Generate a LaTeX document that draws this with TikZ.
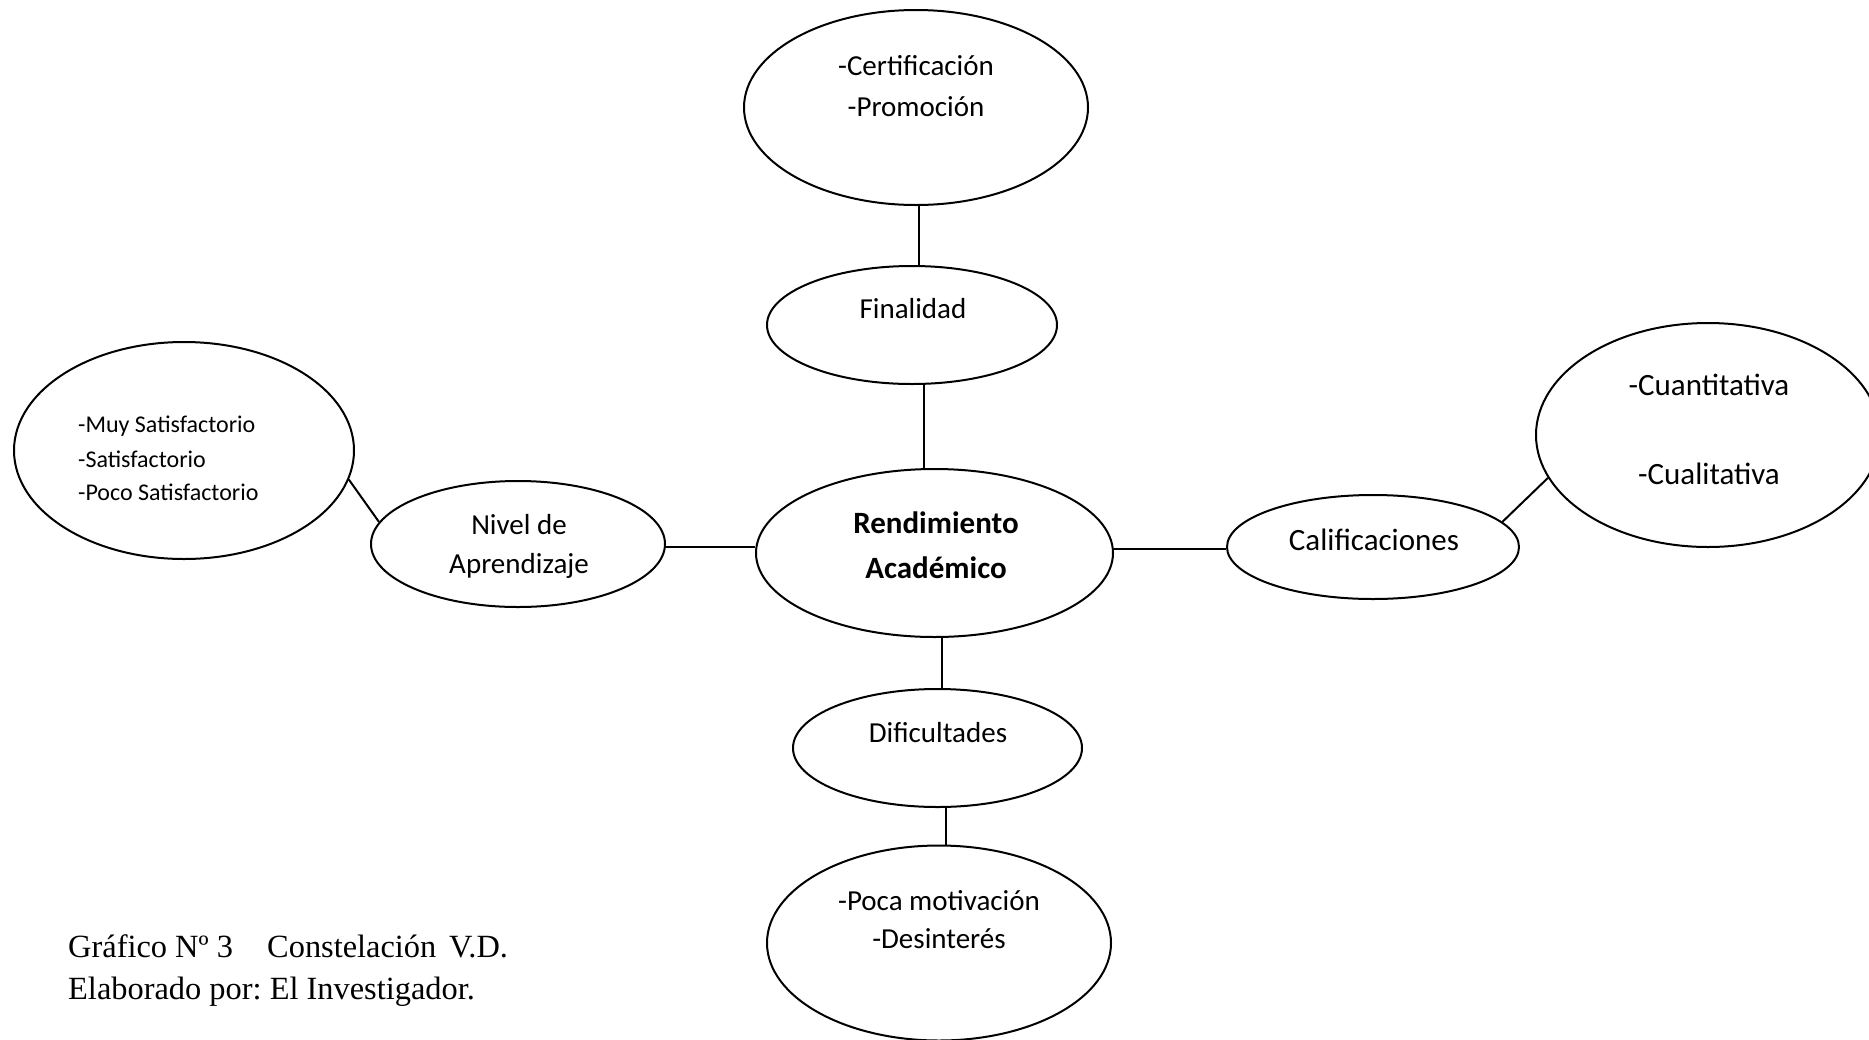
\documentclass[tikz,border=0pt]{standalone}
\usepackage{fontspec}
\setmainfont{Carlito}
\newfontfamily\capfont{Liberation Serif}
\usetikzlibrary{shapes.geometric}
\frenchspacing
\begin{document}
\begin{tikzpicture}[x=1pt,y=-1pt,
  ov/.style={draw, ellipse, line width=2pt, inner sep=0pt},
  lbl/.style={anchor=base, inner sep=0pt, font=\fontsize{29}{35}\selectfont},
  lblb/.style={anchor=base, inner sep=0pt, font=\fontsize{31}{37}\selectfont},
  lbls/.style={anchor=base west, inner sep=0pt, font=\fontsize{24}{30}\selectfont},
  capt/.style={anchor=base west, inner sep=0pt, font=\capfont\fontsize{32.4}{36}\selectfont},
  link/.style={line width=2pt}]
\useasboundingbox (0,0) rectangle (1869,1039);
\clip (0,0) rectangle (1869,1039);
\fill[white] (0,0) rectangle (1869,1039);

% ellipses
\node[ov, minimum width=344pt, minimum height=195pt] (top) at (916,107.5) {};
\node[ov, minimum width=290pt, minimum height=118pt] (fin) at (912,325) {};
\node[ov, minimum width=357pt, minimum height=168pt] (rend) at (934.5,553) {};
\node[ov, minimum width=294pt, minimum height=126pt] (niv) at (518,544) {};
\node[ov, minimum width=340pt, minimum height=217pt] (lb) at (184,450.5) {};
\node[ov, minimum width=292pt, minimum height=104pt] (cal) at (1373,547) {};
\node[ov, minimum width=344pt, minimum height=224pt] (rb) at (1708,435) {};
\node[ov, minimum width=289pt, minimum height=118pt] (dif) at (937.5,748) {};
\node[ov, minimum width=344pt, minimum height=195pt] (bot) at (939,943) {};

% texts
\node[lbl] (t1) at (916,75) {-Certificación};
\node[lbl] (t2) at (916,116) {-Promoción};
\node[lbl] (t3) at (913,318) {Finalidad};
\node[lblb, font=\bfseries\fontsize{31}{37}\selectfont] (t4) at (936,533) {Rendimiento};
\node[lblb, font=\bfseries\fontsize{31}{37}\selectfont] (t5) at (936,578) {Académico};
\node[lbl] (t6) at (519,534) {Nivel de};
\node[lbl] (t7) at (519,573) {Aprendizaje};
\node[lbls] (t8) at (78,432) {-Muy Satisfactorio};
\node[lbls] (t9) at (78,467) {-Satisfactorio};
\node[lbls] (t10) at (78,500) {-Poco Satisfactorio};
\node[lblb] (t11) at (1374,550) {Calificaciones};
\node[lblb] (t12) at (1709,395) {-Cuantitativa};
\node[lblb] (t13) at (1709,484) {-Cualitativa};
\node[lbl] (t14) at (938,742) {Dificultades};
\node[lbl] (t15) at (939,910) {-Poca motivación};
\node[lbl] (t16) at (939,948) {-Desinterés};

% caption
\node[capt] (c1) at (68,957) {Gráfico Nº 3};
\node[capt] (c2) at (267,957) {Constelación};
\node[capt] (c3) at (449,957) {V.D.};
\node[capt] (c4) at (68,999) {Elaborado por: El Investigador.};

% connectors
\coordinate (xa) at (919,0);
\coordinate (xb) at (924,0);
\coordinate (xc) at (942,0);
\coordinate (xd) at (946,0);
\coordinate (ya) at (0,547);
\coordinate (yb) at (0,549);
\draw[link] (top.south -| xa) -- (fin.north -| xa);
\draw[link] (fin.south -| xb) -- (rend.north -| xb);
\draw[link] (rend.south -| xc) -- (dif.north -| xc);
\draw[link] (dif.south -| xd) -- (bot.north -| xd);
\draw[link] (niv.east |- ya) -- (rend.west |- ya);
\draw[link] (rend.east |- yb) -- (cal.west |- yb);
\draw[link] (lb.-10.4) -- (niv.171.5);
\draw[link] (cal.11.8) -- (rb.195.2);
\end{tikzpicture}
\end{document}
